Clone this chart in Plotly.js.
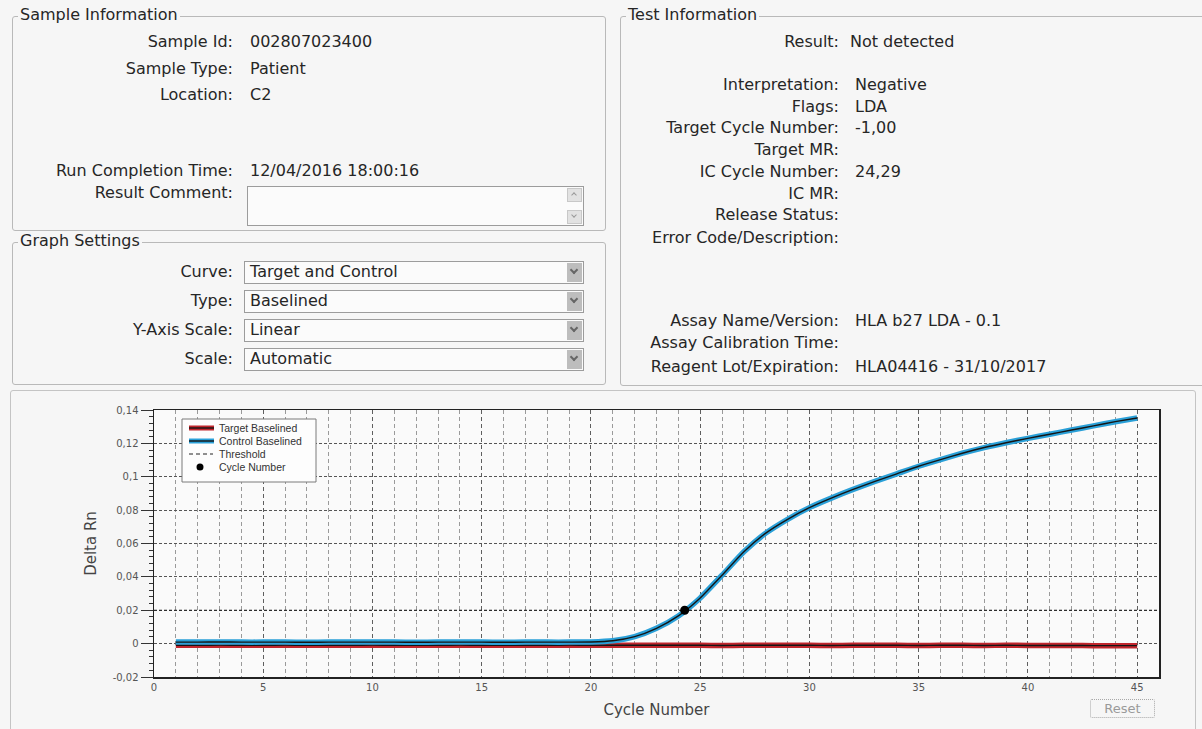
<!DOCTYPE html>
<html>
<head>
<meta charset="utf-8">
<script src="https://cdn.plot.ly/plotly-3.0.1.min.js"></script>
<style>
  html, body { margin: 0; padding: 0; background: #f6f6f6; }
  #page { position: relative; width: 1202px; height: 729px; overflow: hidden;
          font-family: "DejaVu Sans", sans-serif; color: #262626; }
  .box { position: absolute; border: 1px solid #b9b9b9; border-radius: 3px; }
  .cap { position: absolute; font-size: 16px; line-height: 18px; background: #f6f6f6;
         padding: 0 2px; white-space: nowrap; }
  .lbl, .val { position: absolute; font-size: 16px; line-height: 18px; white-space: nowrap; }
  .lbl { text-align: right; }
  .combo { position: absolute; border: 1px solid #9c9c9c; background: #fbfbfb; box-sizing: border-box; }
  .arrow { position: absolute; right: 1px; top: 1px; bottom: 1px; width: 15px; background: #bdbdbd; }
  .arrow::after { content: ""; position: absolute; left: 4px; top: 4px; width: 4px; height: 4px;
                  border-right: 2px solid #666; border-bottom: 2px solid #666; transform: rotate(45deg); }
  .scroll { position: absolute; right: 1px; width: 15px; height: 14px; background: #e2e2e2; border: 1px solid #c8c8c8; box-sizing: border-box; }
  .scroll::after { content: ""; position: absolute; left: 4px; width: 3px; height: 3px;
                   border-right: 1.5px solid #999; border-bottom: 1.5px solid #999; }
  .up::after { top: 4px; transform: rotate(-135deg); }
  .down::after { top: 2px; transform: rotate(45deg); }
  .btn { position: absolute; border: 1px dotted #a8a8a8; border-radius: 2px; font-size: 13px;
         color: #9a9a9a; text-align: center; box-sizing: border-box; }
  #chart { position: absolute; left: 10px; top: 390px; width: 1185px; height: 339px; }
</style>
</head>
<body>
<div id="page"></div>
<script>
// ---- report fields ----
const sampleLabels = ["Sample Id:", "Sample Type:", "Location:", "Run Completion Time:", "Result Comment:"];
const sampleValues = ["002807023400", "Patient", "C2", "12/04/2016 18:00:16", ""];

const settingLabels = ["Curve:", "Type:", "Y-Axis Scale:", "Scale:"];
const settingValues = ["Target and Control", "Baselined", "Linear", "Automatic"];

const testLabels = ["Result:", "Interpretation:", "Flags:", "Target Cycle Number:", "Target MR:",
                    "IC Cycle Number:", "IC MR:", "Release Status:", "Error Code/Description:",
                    "Assay Name/Version:", "Assay Calibration Time:", "Reagent Lot/Expiration:"];
const testValues = ["Not detected", "Negative", "LDA", "-1,00", "", "24,29", "", "", "",
                    "HLA b27 LDA - 0.1", "", "HLA04416 - 31/10/2017"];

// ---- amplification data ----
const cycles = [1, 2, 3, 4, 5, 6, 7, 8, 9, 10, 11, 12, 13, 14, 15, 16, 17, 18, 19, 20,
                21, 22, 23, 24, 25, 26, 27, 28, 29, 30, 31, 32, 33, 34, 35, 36, 37, 38, 39, 40,
                41, 42, 43, 44, 45];
const targetBaselined = [-0.0010, -0.0010, -0.0009, -0.0010, -0.0010, -0.0009, -0.0010, -0.0010, -0.0010, -0.0009,
                         -0.0010, -0.0010, -0.0010, -0.0009, -0.0010, -0.0010, -0.0010, -0.0010, -0.0009, -0.0010,
                         -0.0010, -0.0010, -0.0010, -0.0010, -0.0010, -0.0011, -0.0010, -0.0010, -0.0010, -0.0010,
                         -0.0011, -0.0010, -0.0010, -0.0010, -0.0011, -0.0010, -0.0010, -0.0011, -0.0010, -0.0011,
                         -0.0011, -0.0011, -0.0012, -0.0012, -0.0012];
const controlBaselined = [0.0009, 0.0009, 0.0010, 0.0009, 0.0009, 0.0009, 0.0008, 0.0009, 0.0009, 0.0009,
                          0.0009, 0.0008, 0.0009, 0.0009, 0.0009, 0.0008, 0.0009, 0.0009, 0.0009, 0.0010,
                          0.0017, 0.0042, 0.0092, 0.0166, 0.0274, 0.0410, 0.0550, 0.0662, 0.0745, 0.0815,
                          0.0872, 0.0924, 0.0972, 0.1017, 0.1063, 0.1103, 0.1141, 0.1175, 0.1204, 0.1230,
                          0.1255, 0.1280, 0.1305, 0.1330, 0.1352];
const thresholdValue = 0.02;
const icCycleNumber = 24.29;

const xRange = [0, 46];
const yRange = [-0.02, 0.14];
const yTickVals = [-0.02, 0, 0.02, 0.04, 0.06, 0.08, 0.1, 0.12, 0.14];
const yTickText = ["-0,02", "0", "0,02", "0,04", "0,06", "0,08", "0,1", "0,12", "0,14"];
const legendNames = ["Target Baselined", "Control Baselined", "Threshold", "Cycle Number"];

// ---- form panels ----
const page = document.getElementById("page");
function el(cls, css, text) {
  const d = document.createElement("div");
  d.className = cls;
  Object.assign(d.style, css);
  if (text !== undefined) d.textContent = text;
  page.appendChild(d);
  return d;
}
function panel(left, top, width, height, title) {
  el("box", { left: left + "px", top: top + "px", width: width + "px", height: height + "px" });
  el("cap", { left: (left + 6) + "px", top: (top - 10) + "px" }, title);
}
function row(labelRight, valueLeft, y, label, value) {
  el("lbl", { right: (1202 - labelRight) + "px", top: (y - 9) + "px" }, label);
  if (value) el("val", { left: valueLeft + "px", top: (y - 9) + "px" }, value);
}

panel(12, 16, 592, 213, "Sample Information");
const sampleRows = [42, 69, 95, 171, 193];
sampleLabels.forEach((l, i) => row(233, 250, sampleRows[i], l, sampleValues[i]));
el("combo", { left: "247px", top: "186px", width: "337px", height: "40px" });
el("scroll up", { left: "567px", top: "188px" });
el("scroll down", { left: "567px", top: "210px" });

panel(12, 242, 592, 141, "Graph Settings");
const settingRows = [272, 301, 330, 359];
settingLabels.forEach((l, i) => {
  row(233, 250, settingRows[i], l, "");
  const c = el("combo", { left: "244px", top: (settingRows[i] - 11) + "px", width: "340px", height: "23px" });
  const a = document.createElement("div"); a.className = "arrow"; c.appendChild(a);
  el("val", { left: "250px", top: (settingRows[i] - 9) + "px" }, settingValues[i]);
});

panel(620, 16, 600, 368, "Test Information");
const testRows = [42, 85, 107, 128, 150, 172, 194, 215, 238, 321, 343, 367];
testLabels.forEach((l, i) => row(839, i === 0 ? 850 : 855, testRows[i], l, testValues[i]));

// chart frame and reset button
el("box", { left: "10px", top: "390px", width: "1184px", height: "360px", borderColor: "#c4c4c4" });
const chartDiv = document.createElement("div");
chartDiv.id = "chart";
page.appendChild(chartDiv);
el("btn", { left: "1090px", top: "699px", width: "65px", height: "19px", lineHeight: "17px" }, "Reset");

// ---- chart ----
const red = "#c1262d", blue = "#2aa0d8", ink = "#151515";
const curve = (color, width) => ({ color: color, width: width, shape: "spline", smoothing: 0.6 });
const traces = [
  { x: cycles, y: targetBaselined, mode: "lines", line: curve(red, 5.5), hoverinfo: "skip" },
  { x: cycles, y: targetBaselined, mode: "lines", line: curve(ink, 1.4), name: legendNames[0] },
  { x: cycles, y: controlBaselined, mode: "lines", line: curve(blue, 5.5), hoverinfo: "skip" },
  { x: cycles, y: controlBaselined, mode: "lines", line: curve(ink, 1.4), name: legendNames[1] },
  { x: xRange, y: [thresholdValue, thresholdValue], mode: "lines", line: { color: "#222", width: 1, dash: "3px,2px" }, name: legendNames[2] },
  { x: [icCycleNumber], y: [thresholdValue], mode: "markers", marker: { color: "#000", size: 9 }, name: legendNames[3] }
];

// legend drawn as a boxed key in the upper left of the plot area
const plotL = 154, plotR = 1159, plotT = 410, plotB = 677;
const PX = px => (px - plotL) / (plotR - plotL);
const PY = py => (plotB - py) / (plotB - plotT);
const keyRows = [428, 441, 454, 467];
const shapes = [
  { type: "rect", xref: "paper", yref: "paper", x0: PX(182), x1: PX(316), y0: PY(482), y1: PY(419),
    fillcolor: "#fdfdfd", line: { color: "#7a7a7a", width: 1 } },
  { type: "line", xref: "paper", yref: "paper", x0: PX(189), x1: PX(214), y0: PY(keyRows[0]), y1: PY(keyRows[0]), line: { color: red, width: 5 } },
  { type: "line", xref: "paper", yref: "paper", x0: PX(189), x1: PX(214), y0: PY(keyRows[0]), y1: PY(keyRows[0]), line: { color: ink, width: 1.4 } },
  { type: "line", xref: "paper", yref: "paper", x0: PX(189), x1: PX(214), y0: PY(keyRows[1]), y1: PY(keyRows[1]), line: { color: blue, width: 5 } },
  { type: "line", xref: "paper", yref: "paper", x0: PX(189), x1: PX(214), y0: PY(keyRows[1]), y1: PY(keyRows[1]), line: { color: ink, width: 1.4 } },
  { type: "line", xref: "paper", yref: "paper", x0: PX(189), x1: PX(213), y0: PY(keyRows[2]), y1: PY(keyRows[2]), line: { color: "#222", width: 1, dash: "4px,3px" } },
  { type: "circle", xref: "paper", yref: "paper", x0: PX(196.5), x1: PX(203.5), y0: PY(keyRows[3] + 3.5), y1: PY(keyRows[3] - 3.5),
    fillcolor: "#000", line: { color: "#000", width: 0 } }
];
const annotations = legendNames.map((n, i) => ({
  xref: "paper", yref: "paper", x: PX(217), y: PY(keyRows[i]), xanchor: "left", yanchor: "middle",
  text: n, showarrow: false, font: { family: "Liberation Sans, Arial, sans-serif", size: 10.5, color: "#333" }
}));

const layout = {
  width: 1185, height: 339,
  margin: { l: plotL - 10, r: 1195 - plotR, t: plotT - 390, b: 729 - plotB },
  paper_bgcolor: "rgba(0,0,0,0)",
  plot_bgcolor: "#fafafa",
  showlegend: false,
  font: { family: "DejaVu Sans, sans-serif", color: "#444" },
  xaxis: {
    range: xRange, tick0: 0, dtick: 5, ticks: "", zeroline: false,
    showline: true, mirror: true, linecolor: "#222", linewidth: 1.5,
    showgrid: true, gridcolor: "#5f5f5f", griddash: "4px,3px", gridwidth: 1,
    minor: { tick0: 0, dtick: 1, showgrid: true, gridcolor: "#9a9a9a", griddash: "4px,3px", gridwidth: 1, ticks: "" },
    tickfont: { size: 10, color: "#555" },
    title: { text: "Cycle Number", font: { size: 15, color: "#444" }, standoff: 13 }
  },
  yaxis: {
    range: yRange, tickmode: "array", tickvals: yTickVals, ticktext: yTickText,
    ticks: "outside", ticklen: 12, tickcolor: "#333", tickwidth: 1, zeroline: false,
    showline: true, mirror: true, linecolor: "#222", linewidth: 1.5,
    showgrid: true, gridcolor: "#555", griddash: "3px,2px", gridwidth: 1,
    minor: { tickmode: "linear", tick0: 0, dtick: 0.004, ticks: "outside", ticklen: 4, tickcolor: "#333", showgrid: false },
    tickfont: { size: 10, color: "#555" },
    title: { text: "Delta Rn", font: { size: 15, color: "#444" }, standoff: 12 }
  },
  shapes: shapes,
  annotations: annotations
};

Plotly.newPlot(chartDiv, traces, layout, { displayModeBar: false, staticPlot: true });
</script>
</body>
</html>
